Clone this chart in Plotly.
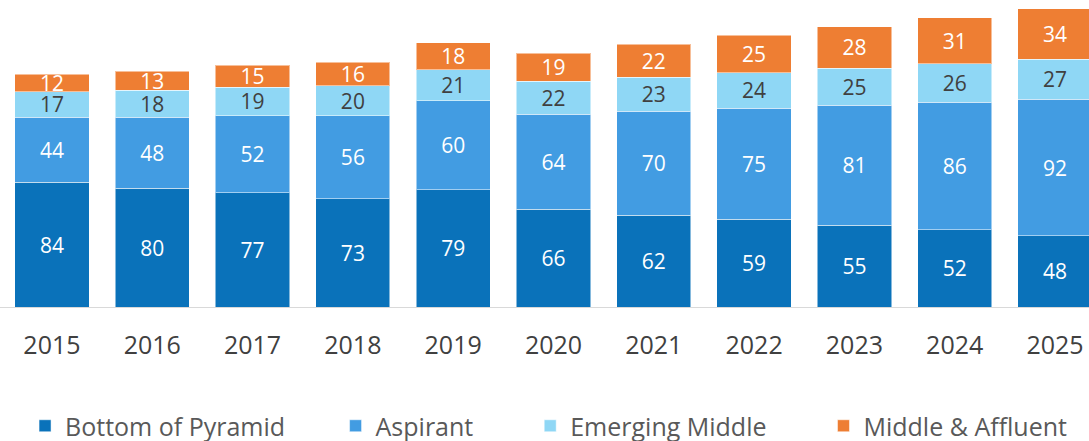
import plotly.graph_objects as go

years = ["2015", "2016", "2017", "2018", "2019", "2020", "2021", "2022", "2023", "2024", "2025"]
bottom = [84, 80, 77, 73, 79, 66, 62, 59, 55, 52, 48]
aspirant = [44, 48, 52, 56, 60, 64, 70, 75, 81, 86, 92]
emerging = [17, 18, 19, 20, 21, 22, 23, 24, 25, 26, 27]
affluent = [12, 13, 15, 16, 18, 19, 22, 25, 28, 31, 34]

series = [
    ("Bottom of Pyramid", bottom, "#0A72BA", "white", 7),
    ("Aspirant", aspirant, "#429CE2", "white", 8),
    ("Emerging Middle", emerging, "#8FD7F5", "#404040", 8),
    ("Middle & Affluent", affluent, "#EE7E33", "white", 0),
]

FONT = "Open Sans"

fig = go.Figure()
for name, vals, col, tcol, npad in series:
    fig.add_trace(go.Bar(
        x=years, y=vals, name=name + "\u00a0" * npad,
        marker=dict(color=col, line=dict(color="rgba(255,255,255,0.5)", width=1)),
        text=[str(v) for v in vals], textposition="inside", insidetextanchor="middle",
        textangle=0, constraintext="none",
        textfont=dict(family=FONT, size=21, color=tcol),
        cliponaxis=False, hoverinfo="skip",
    ))

fig.update_layout(
    barmode="stack", bargap=0.26,
    width=1089, height=441,
    margin=dict(l=0, r=0, t=0, b=134),
    plot_bgcolor="white", paper_bgcolor="white",
    font=dict(family=FONT, color="#404040"),
    showlegend=True,
    legend=dict(orientation="h", xref="container", yref="container",
                x=0.023, xanchor="left", y=0.034, yanchor="middle",
                font=dict(family=FONT, size=25, color="#595959"),
                traceorder="normal"),
    xaxis=dict(type="category", range=[-0.518, 10.339], showline=True,
               linecolor="#D9D9D9", linewidth=1, ticks="", showgrid=False,
               tickfont=dict(family=FONT, size=25, color="#404040"), ticklabelstandoff=16),
    yaxis=dict(range=[0, 206.9], visible=False, showgrid=False),
)

fig.write_html(
    "out.html",
    config={"displayModeBar": False},
    post_script="document.body.style.margin='0';document.body.style.overflow='hidden';",
)
